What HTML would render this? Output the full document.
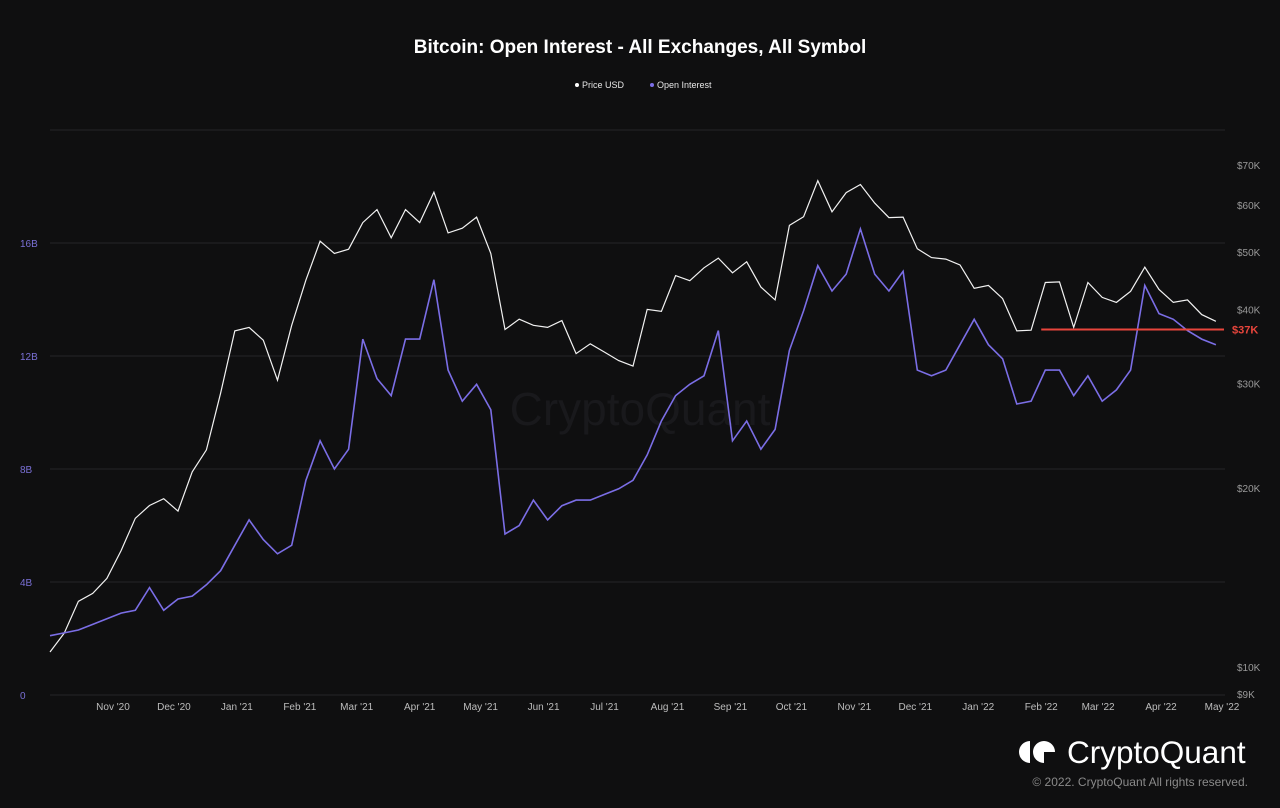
<!DOCTYPE html>
<html><head><meta charset="utf-8"><style>
html,body{margin:0;padding:0;background:#0f0f10;}
body{width:1280px;height:803px;overflow:hidden;font-family:"Liberation Sans",sans-serif;}
svg text{font-family:"Liberation Sans",sans-serif;}
</style></head><body>
<svg id="chart" width="1280" height="803" xmlns="http://www.w3.org/2000/svg">
<rect width="1280" height="803" fill="#0f0f10"/>
<text x="640" y="53" fill="#ffffff" font-size="19" font-weight="bold" text-anchor="middle">Bitcoin: Open Interest - All Exchanges, All Symbol</text>
<g font-size="9" fill="#e6e6e6">
<g><circle cx="577" cy="85" r="2" fill="#ffffff"/><text x="582" y="88">Price USD</text></g>
<g><circle cx="652" cy="85" r="2" fill="#7b6ee6"/><text x="657" y="88">Open Interest</text></g>
</g>
<text x="640" y="425" fill="#19191c" font-size="46" text-anchor="middle">CryptoQuant</text>
<g id="grid"></g>
<g id="axes"></g>
<g id="series"></g>
<g>
<path d="M1030 741 a11 11 0 0 0 0 22 z" fill="#fff"/>
<circle cx="1044" cy="752" r="11" fill="#fff"/>
<path d="M1044 752 h11 v11 h-11 z" fill="#0f0f10"/>
<text x="1067" y="763" fill="#ffffff" font-size="31.5">CryptoQuant</text>
</g>
<text x="1248" y="786" fill="#8a8a8a" font-size="12" text-anchor="end">© 2022. CryptoQuant All rights reserved.</text>
</svg>
<script>
const oiTicks=[0,4,8,12,16,20];
const oiTickLabels=["0","4B","8B","12B","16B",""];
const priceTicks=[9,10,20,30,40,50,60,70];
const priceTickLabels=["$9K","$10K","$20K","$30K","$40K","$50K","$60K","$70K"];
const monthTicks=["2020-11-01","2020-12-01","2021-01-01","2021-02-01","2021-03-01","2021-04-01","2021-05-01","2021-06-01","2021-07-01","2021-08-01","2021-09-01","2021-10-01","2021-11-01","2021-12-01","2022-01-01","2022-02-01","2022-03-01","2022-04-01","2022-05-01"];
const monthLabels=["Nov '20","Dec '20","Jan '21","Feb '21","Mar '21","Apr '21","May '21","Jun '21","Jul '21","Aug '21","Sep '21","Oct '21","Nov '21","Dec '21","Jan '22","Feb '22","Mar '22","Apr '22","May '22"];
const startDate="2020-10-01";
const priceK=[10.6,11.4,12.9,13.3,14.1,15.7,17.8,18.7,19.2,18.3,21.3,23.2,28.9,36.8,37.3,35.5,30.4,37.6,44.8,52.1,49.7,50.5,56.0,58.9,52.8,58.9,56.0,63.0,53.8,54.8,57.2,49.7,37.0,38.5,37.6,37.3,38.3,33.7,35.0,33.9,32.8,32.1,40.0,39.7,45.6,44.7,47.0,48.8,46.1,48.1,43.6,41.5,55.4,57.3,65.9,58.4,62.9,64.9,60.4,57.1,57.2,50.6,48.9,48.6,47.5,43.4,43.9,41.7,36.8,36.9,44.4,44.5,37.3,44.4,41.9,41.1,42.9,47.1,43.2,41.1,41.5,39.2,38.2];
const oiB=[2.1,2.2,2.3,2.5,2.7,2.9,3.0,3.8,3.0,3.4,3.5,3.9,4.4,5.3,6.2,5.5,5.0,5.3,7.6,9.0,8.0,8.7,12.6,11.2,10.6,12.6,12.6,14.7,11.5,10.4,11.0,10.1,5.7,6.0,6.9,6.2,6.7,6.9,6.9,7.1,7.3,7.6,8.5,9.7,10.6,11.0,11.3,12.9,9.0,9.7,8.7,9.4,12.2,13.6,15.2,14.3,14.9,16.5,14.9,14.3,15.0,11.5,11.3,11.5,12.4,13.3,12.4,11.9,10.3,10.4,11.5,11.5,10.6,11.3,10.4,10.8,11.5,14.5,13.5,13.3,12.9,12.6,12.4];
const supportLevelK=37;
const supportStart="2022-02-01";
const supportLabel="$37K";

const NS="http://www.w3.org/2000/svg";
const X0=50,X1=1222,D0=new Date("2020-10-01"),D1=new Date("2022-05-01");
function xDate(d){const t=new Date(d);return X0+(t-D0)/(D1-D0)*(X1-X0);}
function xIdx(i){const t=new Date(new Date(startDate).getTime()+i*7*864e5);return X0+(t-D0)/(D1-D0)*(X1-X0);}
function yOI(v){return 695-v*(565/20);}
function yP(k){return 667-594*Math.log10(k/10);}
function mk(tag,attrs,parent){const e=document.createElementNS(NS,tag);for(const k in attrs)e.setAttribute(k,attrs[k]);parent.appendChild(e);return e;}
const grid=document.getElementById('grid'),axes=document.getElementById('axes'),series=document.getElementById('series');
oiTicks.forEach((v,i)=>{
 const l=mk('line',{x1:50,x2:1225,y1:yOI(v),y2:yOI(v),stroke:'#262628','stroke-width':1},grid);
 
 
 const t=mk('text',{x:20,y:yOI(v)+4,fill:'#7a70d6','font-size':10},axes);t.textContent=oiTickLabels[i];
 
 
});
priceTicks.forEach((v,i)=>{
 const t=mk('text',{x:1237,y:yP(v)+4,fill:'#9a9a9a','font-size':10},axes);t.textContent=priceTickLabels[i];
 
 
});
monthTicks.forEach((d,i)=>{
 const t=mk('text',{x:xDate(d),y:710,fill:'#bdbdbd','font-size':10,'text-anchor':'middle'},axes);t.textContent=monthLabels[i];
 
 
});
const pp=mk('polyline',{points:priceK.map((v,i)=>xIdx(i).toFixed(1)+','+yP(v).toFixed(1)).join(' '),fill:'none',stroke:'#f2f2f2','stroke-width':1.2},series);


const op=mk('polyline',{points:oiB.map((v,i)=>xIdx(i).toFixed(1)+','+yOI(v).toFixed(1)).join(' '),fill:'none',stroke:'#7b6ee6','stroke-width':1.6},series);


const sl=mk('line',{x1:xDate(supportStart),x2:1224,y1:yP(supportLevelK),y2:yP(supportLevelK),stroke:'#e8453c','stroke-width':2},series);


const st=mk('text',{x:1232,y:yP(supportLevelK)+4,fill:'#e8453c','font-size':11,'font-weight':'bold'},series);st.textContent=supportLabel;


</script>
</body></html>
